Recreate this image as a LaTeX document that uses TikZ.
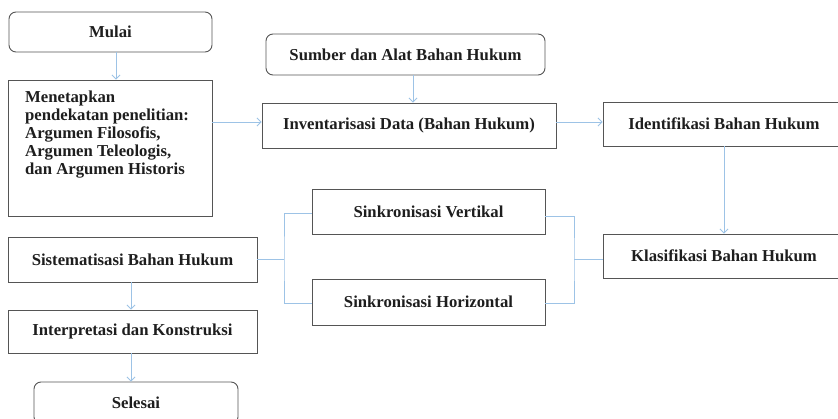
\documentclass[tikz,border=0pt]{standalone}
\usepackage{fontspec}
\setmainfont{Liberation Serif}
\usetikzlibrary{arrows.meta}
\definecolor{linkblue}{HTML}{9DC3E6}
\definecolor{boxgray}{HTML}{555555}
\definecolor{inkdark}{HTML}{1E1E1E}
\begin{document}
\begin{tikzpicture}[x=1pt,y=-1pt,
  every node/.style={font=\fontsize{16.7}{18}\selectfont\bfseries, text=inkdark},
  box/.style={draw=boxgray, line width=0.9pt, inner sep=0pt, align=center},
  roundbox/.style={box, rounded corners=7pt},
  link/.style={draw=linkblue, line width=0.9pt},
  arr/.style={link, -{Straight Barb[length=4pt,width=8pt,line width=0.8pt]}}]
  \useasboundingbox (0,0) rectangle (838,419);
  \clip (0,0) rectangle (838,419);
  \fill[white] (0,0) rectangle (838,419);

  % left column
  \node[roundbox, minimum width=203pt, minimum height=40pt] (mulai) at (110.5,32) {Mulai};
  \node[box, minimum width=204pt, minimum height=136pt] (tetap) at (110,148) {};
  % multi-line label: its base anchor sits on the last line
  \node[anchor=base west, align=left, inner sep=0pt] (tetaptxt) at (25,175)
    {Menetapkan\\pendekatan penelitian:\\Argumen Filosofis,\\Argumen Teleologis,\\dan Argumen Historis};
  \node[box, minimum width=249pt, minimum height=45pt] (sist) at (132.5,259.5) {Sistematisasi Bahan Hukum};
  \node[box, minimum width=249pt, minimum height=43pt] (interp) at (132.5,331.5) {Interpretasi dan Konstruksi};
  \node[roundbox, minimum width=204pt, minimum height=42pt] (selesai) at (136,403) {Selesai};

  % middle column
  \node[roundbox, minimum width=279pt, minimum height=41pt] (sumber) at (405.5,54.5) {Sumber dan Alat Bahan Hukum};
  \node[box, minimum width=294pt, minimum height=45pt] (invent) at (409,125.5) {Inventarisasi Data (Bahan Hukum)};
  \node[box, minimum width=233pt, minimum height=45pt] (sinkv) at (428.5,211.5) {Sinkronisasi Vertikal};
  \node[box, minimum width=233pt, minimum height=46pt] (sinkh) at (428.5,302) {Sinkronisasi Horizontal};

  % right column
  \node[box, minimum width=242pt, minimum height=44pt] (ident) at (724,124) {Identifikasi Bahan Hukum};
  \node[box, minimum width=242pt, minimum height=44pt] (klas) at (724,256) {Klasifikasi Bahan Hukum};

  % arrows
  \draw[arr] (mulai.south -| 116,0) -- (tetap.north -| 116,0);
  \draw[arr] (tetap.east |- 0,122) -- (invent.west |- 0,122);
  \draw[arr] (sumber.south -| 413,0) -- (invent.north -| 413,0);
  \draw[arr] (invent.east |- 0,122) -- (ident.west |- 0,122);
  \draw[arr] (ident.south) -- (klas.north);
  \draw[arr] (sist.south -| 131,0) -- (interp.north -| 131,0);
  \draw[arr] (interp.south -| 131,0) -- (selesai.north -| 131,0);

  % synchronisation brackets
  \coordinate (lb) at (284,259);
  \coordinate (rb) at (574,259);
  \draw[link] (sist.east |- lb) -- (lb);
  \draw[link] (sinkv.west |- 0,213) -| (lb) |- (sinkh.west |- 0,303);
  \draw[link] (sinkv.east |- 0,216) -| (rb) |- (sinkh.east |- 0,303);
  \draw[link] (rb) -- (klas.west |- rb);
\end{tikzpicture}
\end{document}
